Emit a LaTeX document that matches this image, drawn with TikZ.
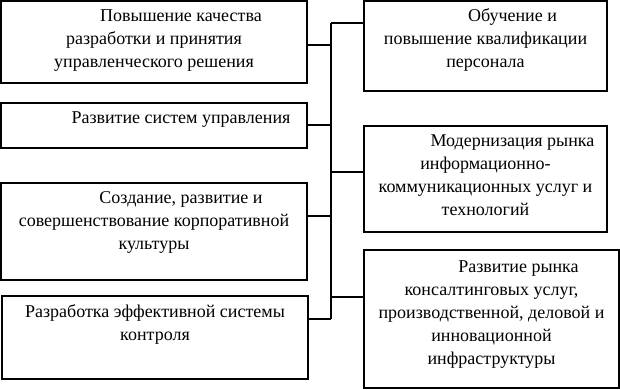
\documentclass[tikz,border=0pt]{standalone}
\usepackage{fontspec}
\setmainfont{Liberation Serif}
\begin{document}
\begin{tikzpicture}[x=1pt,y=-1pt,line width=1.2pt,
  box/.style={draw,rectangle,inner sep=0pt,outer sep=0pt,anchor=north west},
  txt/.style={anchor=north,align=center,inner sep=0pt,font=\fontsize{18}{23}\selectfont},
  conn/.style={draw,line width=1.2pt}]
\useasboundingbox (0,0) rectangle (620,389);
% left boxes
\node[box,minimum width=306pt,minimum height=82pt] (L1) at (1,1) {};
\node[box,minimum width=306pt,minimum height=45pt] (L2) at (1,103) {};
\node[box,minimum width=306pt,minimum height=97pt] (L3) at (1,183) {};
\node[box,minimum width=306pt,minimum height=83pt] (L4) at (2,296) {};
% right boxes
\node[box,minimum width=243pt,minimum height=90pt] (R1) at (364,1) {};
\node[box,minimum width=243pt,minimum height=106pt] (R2) at (364,126) {};
\node[box,minimum width=255pt,minimum height=138pt] (R3) at (364,250) {};
% texts
\node[txt] (tL1) at (154,5) {\strut\hspace*{54pt}Повышение качества\\разработки и принятия\\управленческого решения};
\node[txt] (tL2) at (154,107) {\strut\hspace*{54pt}Развитие систем управления};
\node[txt] (tL3) at (154,187) {\strut\hspace*{54pt}Создание, развитие и\\совершенствование корпоративной\\культуры};
\node[txt] (tL4) at (155,301) {\strut Разработка эффективной системы\\контроля};
\node[txt] (tR1) at (485.5,5) {\strut\hspace*{54pt}Обучение и\\повышение квалификации\\персонала};
\node[txt] (tR2) at (485.5,130) {\strut\hspace*{54pt}Модернизация рынка\\информационно-\\коммуникационных услуг и\\технологий};
\node[txt] (tR3) at (491.5,256) {\strut\hspace*{54pt}Развитие рынка\\консалтинговых услуг,\\производственной, деловой и\\инновационной\\инфраструктуры};
% spine
\coordinate (sT) at (331,23);
\coordinate (sB) at (331,319);
\draw[conn] (sT) -- (sB);
% left connectors
\coordinate (c1) at ([yshift=-44pt]L1.north east);
\coordinate (c2) at ([yshift=-22pt]L2.north east);
\coordinate (c3) at ([yshift=-33pt]L3.north east);
\coordinate (c4) at ([yshift=-23pt]L4.north east);
\draw[conn] (c1) -- (c1 -| sT);
\draw[conn] (c2) -- (c2 -| sT);
\draw[conn] (c3) -- (c3 -| sT);
\draw[conn] (c4) -- (c4 -| sT);
% right connectors
\coordinate (d1) at ([yshift=-22pt]R1.north west);
\coordinate (d2) at ([yshift=-46pt]R2.north west);
\coordinate (d3) at ([yshift=-47pt]R3.north west);
\draw[conn] (d1 -| sT) -- (d1);
\draw[conn] (d2 -| sT) -- (d2);
\draw[conn] (d3 -| sT) -- (d3);
\end{tikzpicture}
\end{document}
